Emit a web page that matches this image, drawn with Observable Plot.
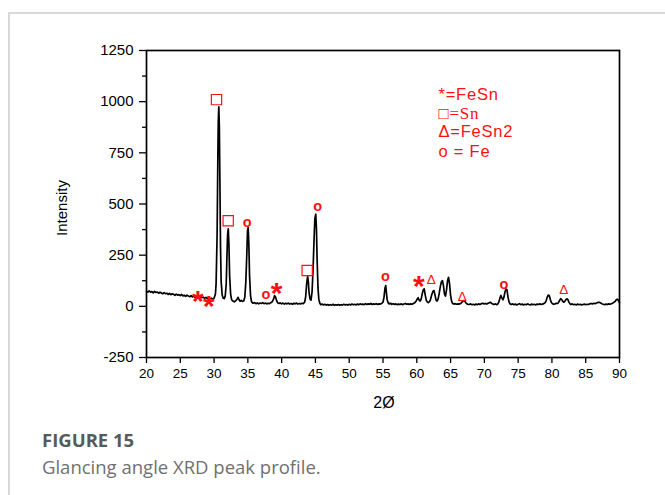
<!DOCTYPE html>
<html><head><meta charset="utf-8">
<script src="https://cdn.jsdelivr.net/npm/d3@7"></script>
<script src="https://cdn.jsdelivr.net/npm/@observablehq/plot@0.6"></script>
<style>
html,body{margin:0;padding:0;background:#fff}
body{width:665px;height:495px;overflow:hidden;position:relative;font-family:"Liberation Sans",Arial,sans-serif}
#frame{position:absolute;left:8px;top:12px;right:0;bottom:0;border-left:2px solid #d9d9d9;border-top:2px solid #d9d9d9}
#chart{position:absolute;left:0;top:0}
.cap{position:absolute;left:42px;font-family:"Open Sans",sans-serif;font-size:18.5px;line-height:18.5px;white-space:nowrap}
#cap1{top:431px;font-weight:700;color:#595959}
#cap2{top:458px;color:#707070}
</style></head>
<body>
<div id="frame"></div>
<div id="chart"></div>
<div class="cap" id="cap1">FIGURE 15</div>
<div class="cap" id="cap2">Glancing angle XRD peak profile.</div>
<script>
// XRD trace: 2θ (degrees) and intensity
const twoTheta = [
20.0,20.2,20.4,20.6,20.8,21.0,21.2,21.4,21.6,21.8,22.0,22.2,22.4,22.6,22.8,23.0,23.2,23.4,23.6,23.8,
24.0,24.2,24.4,24.6,24.8,25.0,25.2,25.4,25.6,25.8,26.0,26.2,26.4,26.6,26.8,27.0,27.2,27.4,27.6,27.8,
28.0,28.2,28.4,28.6,28.8,29.0,29.2,29.4,29.6,29.8,30.0,30.2,
30.3,30.45,30.55,30.62,30.7,30.78,30.86,30.95,31.05,31.2,31.35,31.5,31.65,31.8,31.9,32.0,32.1,32.2,32.3,32.45,32.6,32.8,
33.0,33.2,33.4,33.55,33.7,33.85,34.0,34.2,34.4,34.55,34.7,34.85,34.95,35.05,35.15,35.25,35.4,35.55,35.75,
36.0,36.2,36.4,36.6,36.8,37.0,37.2,37.4,37.6,37.8,38.0,38.2,38.4,38.6,38.8,38.95,39.1,39.25,39.4,39.6,39.8,
40.0,40.2,40.4,40.6,40.8,41.0,41.2,41.4,41.6,41.8,42.0,42.2,42.4,42.6,42.8,43.0,43.2,43.4,43.55,43.7,43.85,43.95,
44.05,44.2,44.35,44.5,44.65,44.8,44.92,45.05,45.15,45.25,45.38,45.5,45.65,45.8,
46.0,46.2,46.4,46.6,46.8,47.0,47.2,47.4,47.6,47.8,48.0,48.2,48.4,48.6,48.8,49.0,49.2,49.4,49.6,49.8,
50.0,50.2,50.4,50.6,50.8,51.0,51.2,51.4,51.6,51.8,52.0,52.2,52.4,52.6,52.8,53.0,53.2,53.4,53.6,53.8,
54.0,54.2,54.4,54.6,54.8,55.0,55.15,55.3,55.4,55.5,55.6,55.75,55.9,
56.1,56.3,56.5,56.7,56.9,57.1,57.3,57.5,57.7,57.9,58.1,58.3,58.5,58.7,58.9,59.1,59.3,59.5,59.7,59.9,
60.05,60.2,60.35,60.5,60.65,60.8,60.95,61.1,61.25,61.4,61.55,61.7,61.85,62.0,62.2,62.4,62.55,62.7,62.85,
63.0,63.15,63.3,63.5,63.65,63.8,63.95,64.1,64.25,64.4,64.55,64.7,64.85,65.0,65.15,65.3,65.5,65.7,65.9,
66.1,66.3,66.5,66.7,66.85,67.0,67.15,67.35,67.55,67.75,67.95,68.15,68.35,68.55,68.75,68.95,69.15,69.35,69.55,69.75,69.95,
70.15,70.35,70.55,70.75,70.9,71.05,71.25,71.45,71.65,71.85,72.0,72.15,72.3,72.45,72.6,72.75,72.9,73.05,73.2,73.35,73.5,73.65,73.8,
74.0,74.2,74.4,74.6,74.8,75.0,75.2,75.4,75.6,75.8,76.0,76.2,76.4,76.6,76.8,77.0,77.2,77.4,77.6,77.8,
78.0,78.2,78.4,78.6,78.8,79.0,79.15,79.3,79.45,79.6,79.75,79.9,80.05,80.25,80.45,80.65,80.85,
81.0,81.15,81.3,81.45,81.6,81.75,81.9,82.05,82.2,82.35,82.5,82.65,82.8,
83.0,83.2,83.4,83.6,83.8,84.0,84.2,84.4,84.6,84.8,85.0,85.2,85.4,85.6,85.8,86.0,86.2,86.4,86.6,86.8,
87.0,87.2,87.4,87.6,87.8,88.0,88.2,88.4,88.6,88.8,89.0,89.2,89.4,89.55,89.7,89.85,90.0
];
const intensity = [
74,70,76,69,72,66,73,68,70,64,69,65,61,67,62,64,58,63,57,61,
59,54,60,55,57,52,58,51,54,49,55,50,47,52,46,50,44,49,45,41,
47,42,45,39,44,38,42,36,40,35,39,60,
110,350,700,900,975,880,620,300,120,55,40,38,50,110,240,350,378,300,150,60,32,26,
22,27,35,44,32,25,29,24,27,45,120,260,370,385,300,150,50,22,15,
18,13,17,12,16,14,18,13,16,12,15,13,18,22,35,52,46,28,18,14,17,
12,16,11,15,12,16,11,14,10,15,12,16,11,14,12,15,13,20,45,110,146,120,
70,35,30,70,180,330,430,450,380,230,90,35,15,8,
11,7,10,6,9,5,8,6,10,5,8,6,9,5,8,6,10,7,9,6,
10,7,11,8,10,7,11,8,12,9,11,8,13,9,12,10,14,9,12,10,
13,9,12,11,14,20,45,90,101,70,35,18,12,
15,10,13,9,12,8,11,9,12,8,11,14,10,12,9,12,10,14,18,25,
35,42,30,26,35,60,80,85,55,30,22,18,22,30,55,74,77,55,30,
26,35,60,100,120,126,100,60,50,80,125,142,110,55,25,14,11,13,10,
12,11,14,20,27,28,22,14,10,9,12,8,10,7,11,8,12,9,13,15,12,
14,11,15,18,20,16,11,9,12,8,12,22,40,53,40,32,45,70,85,80,45,22,12,
9,12,8,11,7,10,13,8,11,7,10,8,12,9,7,11,8,10,7,11,
9,12,9,11,13,18,28,45,55,53,35,20,14,10,12,15,14,
20,30,37,33,24,20,24,32,37,34,22,13,9,
12,8,10,7,11,8,10,7,9,11,8,10,9,12,14,12,15,13,16,19,
20,17,13,10,8,11,9,12,10,13,16,20,26,33,35,28,18
];

// axis ticks
const xTicks = [20,25,30,35,40,45,50,55,60,65,70,75,80,85,90];
const yTicks = [-250,0,250,500,750,1000,1250];
const yMinor = [-125,125,375,625,875,1125];

// phase markers (2θ, intensity at marker)
const starX = [27.59, 29.22, 39.24, 60.3];
const starY = [61, 37, 101, 137];
const squareX = [30.36, 32.09, 43.78];
const squareY = [1010, 418, 175];
const circleX = [34.9, 45.35, 37.66, 55.37, 72.88];
const circleY = [406, 484, 53, 142, 102];
const triX = [62.13, 66.72, 81.75];
const triY = [129, 45, 81];

// legend
const legendSans = ["*=FeSn", "Δ=FeSn2", "o = Fe"];
const legendSansY = [1009, 826, 732];
const legendSerif = ["□=Sn"];
const legendSerifY = [916];
const legendX = 63.2;

const trace = twoTheta.map((t, i) => ({t, v: intensity[i]}));
const pts = (xs, ys) => xs.map((x, i) => ({x, y: ys[i]}));
const red = "#ff1010";
const fmt = d => String(d);

const chart = Plot.plot({
  width: 665, height: 420,
  marginLeft: 146, marginRight: 46, marginTop: 50, marginBottom: 63,
  x: {domain: [20, 90]},
  y: {domain: [-250, 1250]},
  style: {fontFamily: "Liberation Sans, Arial, sans-serif", fontSize: "14px", color: "#000", background: "transparent", overflow: "visible"},
  marks: [
    Plot.axisY(yMinor, {tickSize: 4, text: null, label: null, strokeWidth: 1.3}),
    Plot.axisY(yTicks, {tickSize: 7, tickPadding: 6, label: null, fontSize: 15, strokeWidth: 1.3, tickFormat: fmt}),
    Plot.axisX(xTicks, {tickSize: 6, tickPadding: 5, label: null, fontSize: 13.5, strokeWidth: 1.3, tickFormat: fmt}),
    Plot.frame({stroke: "#000", strokeWidth: 1.7}),
    Plot.line(trace, {x: "t", y: "v", stroke: "#000", strokeWidth: 1.7}),
    Plot.text(pts(starX, starY), {x: "x", y: "y", text: () => "*", fill: red, fontSize: 30, fontWeight: "bold", dy: 8}),
    Plot.dot(pts(squareX, squareY), {x: "x", y: "y", symbol: "square", r: 5.8, stroke: red, strokeWidth: 1.2, fill: "none"}),
    Plot.text(pts(circleX, circleY), {x: "x", y: "y", text: () => "o", fill: red, fontSize: 14.5, fontWeight: "bold", dy: -1}),
    Plot.text(pts(triX, triY), {x: "x", y: "y", text: () => "Δ", fill: red, fontSize: 13.5}),
    Plot.text(legendSans, {x: () => legendX, y: (d, i) => legendSansY[i], text: d => d, fill: red, fontSize: 16.5, textAnchor: "start", lineAnchor: "bottom"}),
    Plot.text(legendSerif, {x: () => legendX, y: (d, i) => legendSerifY[i], text: d => d, fill: red, fontSize: 17, fontFamily: "Liberation Serif, serif", textAnchor: "start", lineAnchor: "bottom"}),
    Plot.text(["Intensity"], {frameAnchor: "left", textAnchor: "middle", lineAnchor: "middle", dx: -84, dy: 4, rotate: -90, text: d => d, fontSize: 15, fill: "#000"}),
    Plot.text(["2Ø"], {frameAnchor: "bottom", textAnchor: "middle", lineAnchor: "middle", dx: 1, dy: 45, text: d => d, fontSize: 16, fill: "#000"})
  ]
});
// widen the legend lettering slightly, like the original
const legendAll = new Set([...legendSans, ...legendSerif]);
d3.select(chart).selectAll("text").filter(function() { return legendAll.has(this.textContent); })
  .style("letter-spacing", "0.8px");
document.getElementById("chart").appendChild(chart);
</script>
</body></html>
